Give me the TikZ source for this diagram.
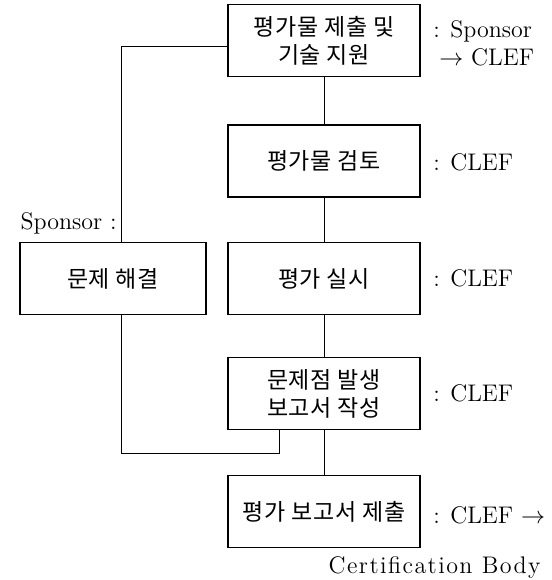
\documentclass[tikz,border=0pt]{standalone}
\usepackage{fontspec}
\newfontfamily\kr[LetterSpace=3]{Noto Sans CJK KR}
\newfontfamily\spaced[LetterSpace=6]{Latin Modern Roman}
\begin{document}
\begin{tikzpicture}[x=0.5pt,y=-0.5pt]
\tikzstyle{stage}=[rectangle,draw,line width=0.6pt,minimum width=96pt,minimum height=36pt,inner sep=0pt,align=center,font=\kr\fontsize{11.5}{14}\selectfont]
  \tikzstyle{role}=[inner sep=0pt,font=\fontsize{12}{15}\selectfont]
  \tikzstyle{link}=[line width=0.4pt]
  \useasboundingbox (0,0) rectangle (552,580);

  \node[stage] (submit) at (324,40.5) {평가물 제출 및\\기술 지원};
  \node[stage] (review) at (324,161) {평가물 검토};
  \node[stage] (run) at (324,278.5) {평가 실시};
  \node[stage] (report) at (324,393.5) {문제점 발생\\보고서 작성};
  \node[stage] (final) at (324,511.5) {평가 보고서 제출};
  \node[stage,minimum width=93pt] (fix) at (113,278.5) {문제 해결};

  \node[role,anchor=west,align=left] (r1) at (433,43) {: Sponsor\\[-1pt]\hspace{3pt}$\rightarrow$ CLEF};
  \node[role,anchor=west] (r2) at (433,162) {: CLEF};
  \node[role,anchor=west] (r3) at (433,278) {: CLEF};
  \node[role,anchor=west] (r4) at (433,393) {: CLEF};
  \node[role,anchor=west] (r5) at (433,515) {: CLEF $\rightarrow$};
  \node[role,anchor=east,font=\spaced\fontsize{12}{15}\selectfont] (r6) at (541,567) {Certification Body};
  \node[role,anchor=east] (r0) at (117,223) {Sponsor :};

  \draw[link] (submit) -- (review);
  \draw[link] (review) -- (run);
  \draw[link] (run) -- (report);
  \draw[link] (report) -- (final);

  % feedback loop
  \coordinate (up) at (121,46);
  \coordinate (dn) at (279,453);
  \draw[link] (fix.north -| up) -- (up) -- (up -| submit.west);
  \draw[link] (report.south -| dn) -- (dn) -- (dn -| up) -- (fix.south -| up);
\end{tikzpicture}
\end{document}
